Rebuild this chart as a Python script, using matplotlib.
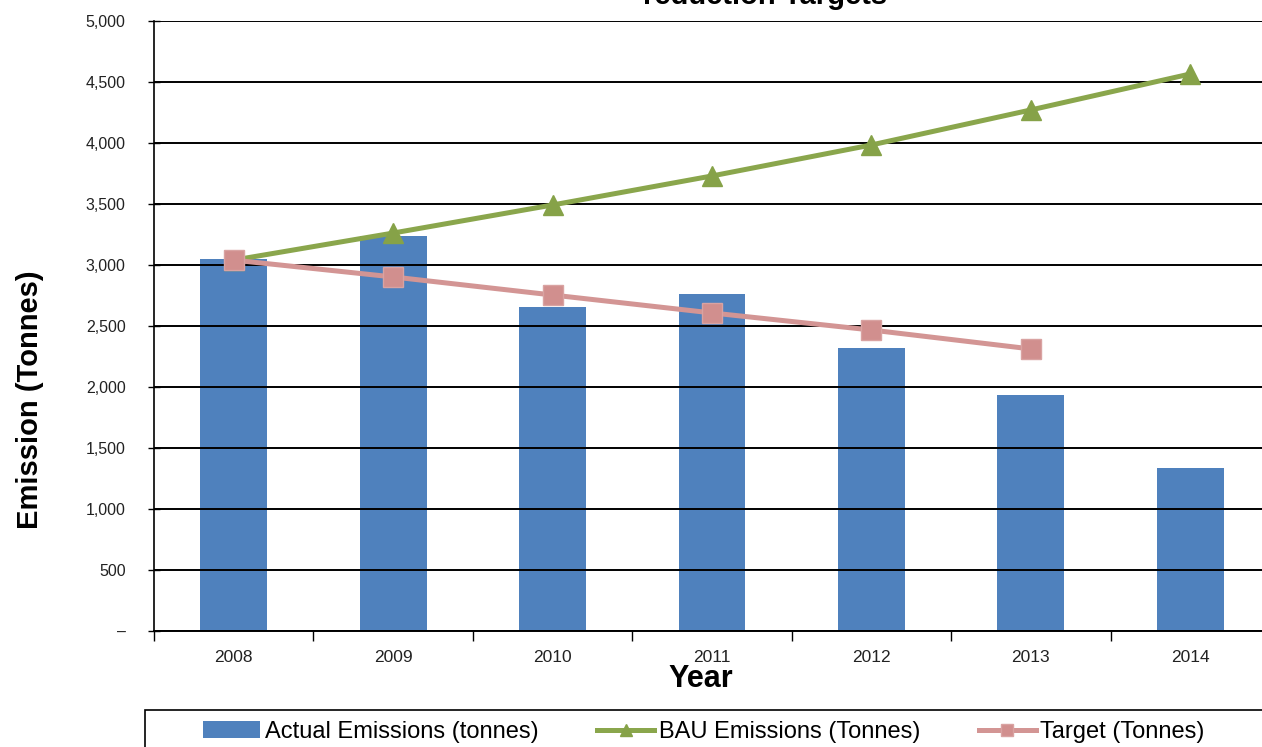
import matplotlib
matplotlib.use("Agg")
import matplotlib.pyplot as plt
from matplotlib.patches import Rectangle
from matplotlib.ticker import FuncFormatter, FixedLocator
import numpy as np

plt.rcParams['font.family'] = ['Liberation Sans', 'DejaVu Sans']

years = ["2008", "2009", "2010", "2011", "2012", "2013", "2014"]
actual = [3050, 3240, 2655, 2760, 2320, 1935, 1335]
bau = [3040, 3262, 3492, 3730, 3984, 4271, 4566]
target = [3040, 2902, 2754, 2607, 2467, 2312, np.nan]
title_text = "reduction Targets"

W, H = 1262, 747
fig = plt.figure(figsize=(W / 100, H / 100), dpi=100)
ax = fig.add_axes([154 / W, 1 - 631 / H, (1270 - 154) / W, (631 - 21) / H])

x = np.arange(len(years))
bars = ax.bar(x, actual, width=0.42, color="#4F81BD", zorder=1,
              label="Actual Emissions (tonnes)")
l1, = ax.plot(x, bau, color="#8AA64C", lw=3.6, marker="^", markersize=15,
              markerfacecolor="#86A248", markeredgecolor="#86A248", zorder=3,
              label="BAU Emissions (Tonnes)")
l2, = ax.plot(x, target, color="#D39594", lw=3.6, marker="s", markersize=14.5,
              markerfacecolor="#D18F8E", markeredgecolor="#D9A3A2", zorder=4,
              label="Target (Tonnes)")

ax.set_xlim(-0.5, len(years) - 0.5)
ax.set_ylim(0, 5000)
ax.set_yticks(np.arange(0, 5001, 500))
ax.yaxis.set_major_formatter(FuncFormatter(lambda v, p: "\u2013" if v == 0 else f"{int(v):,}"))
ax.grid(axis="y", color="black", lw=1.4)
ax.set_axisbelow(False)
for gl in ax.get_ygridlines():
    gl.set_zorder(2)

ax.xaxis.set_major_locator(FixedLocator(np.arange(-0.5, len(years), 1.0)))
ax.xaxis.set_minor_locator(FixedLocator(x))
ax.set_xticklabels([], minor=False)
ax.set_xticklabels(years, minor=True)
ax.tick_params(axis="x", which="major", direction="out", length=7, width=1, color="black")
ax.tick_params(axis="x", which="minor", length=0, pad=14, labelsize=12.5, labelcolor="#222222")
ax.tick_params(axis="y", direction="inout", length=9, width=1, pad=16, labelsize=11.5,
               labelcolor="#222222")

for s in ["top", "right"]:
    ax.spines[s].set_visible(False)
ax.spines["left"].set_linewidth(1.2)
ax.spines["bottom"].set_linewidth(1.4)

fig.text(30 / W, 1 - 400 / H, "Emission (Tonnes)", rotation=90, ha="center", va="center",
         fontsize=21, fontweight="bold")
fig.text(701 / W, 1 - 679 / H, "Year", ha="center", va="center", fontsize=22,
         fontweight="bold")
fig.text(765 / W, 1 - 4 / H, title_text, ha="center", va="baseline", fontsize=21,
         fontweight="bold")

# legend frame
fig.patches.append(Rectangle((145 / W, -0.05), (1280 - 145) / W, (1 - 710 / H) + 0.05,
                             transform=fig.transFigure, fill=False, edgecolor="black",
                             lw=1.2))
leg = fig.legend(handles=[bars, l1, l2], loc="center left", ncol=3,
                 bbox_to_anchor=(182 / W, 1 - 732 / H), frameon=False, fontsize=17,
                 handlelength=2.4, handleheight=0.75, handletextpad=0.2,
                 columnspacing=2.5, markerscale=0.6)

fig.savefig("out.png", dpi=100)
